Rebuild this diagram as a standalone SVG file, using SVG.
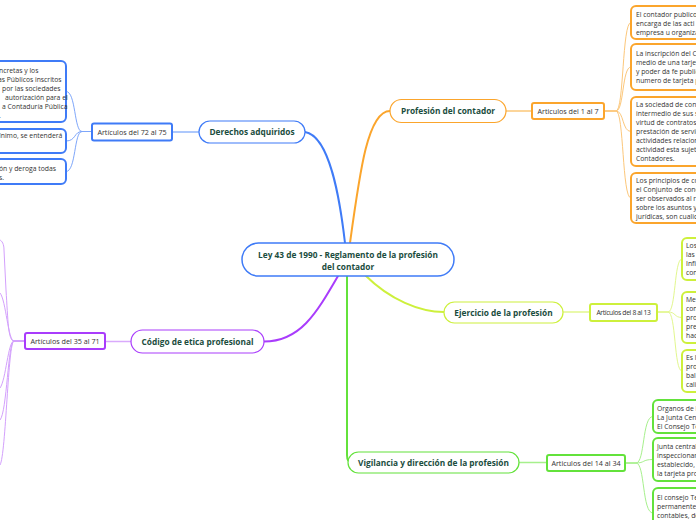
<svg xmlns="http://www.w3.org/2000/svg" width="696" height="520" viewBox="0 0 696 520">
<style>
text{font-family:"Open Sans","Noto Sans","Liberation Sans",sans-serif}
.main{font-size:8.3px;font-weight:bold;fill:#1b4d3e;text-anchor:middle}
.sub{font-size:7.2px;fill:#333;text-anchor:middle}
.leaf{font-size:6.8px;fill:#333}
.c{fill:none;stroke-linecap:round}
rect{fill:#fff}
</style>
<g id="connectors">
  <path class="c" d="M305,132 C330,136 340,200 345,243" stroke="#3f7bf7" stroke-width="2"/>
  <path class="c" d="M199,132 L172,132" stroke="#93b6fb" stroke-width="1.6"/>
  <g stroke="#7ea6fa" stroke-width="1" fill="none">
    <path d="M92,131.5 L82,131.5 C74,131.5 76,91.5 66,91.5"/>
    <path d="M92,131.5 L82,131.5 C74,131.5 76,141 66,141"/>
    <path d="M92,131.5 L82,131.5 C74,131.5 76,171.5 66,171.5"/>
  </g>
  <path class="c" d="M350,243 C360,170 368,111 390,111" stroke="#fba52c" stroke-width="2"/>
  <path class="c" d="M506,111 L532,111" stroke="#fcc77a" stroke-width="1.6"/>
  <g stroke="#fcc77a" stroke-width="1" fill="none">
    <path d="M604,111 L616,111 C624,111 622,22.5 631,22.5"/>
    <path d="M604,111 L616,111 C624,111 622,67 631,67"/>
    <path d="M604,111 L616,111 C624,111 622,131.5 631,131.5"/>
    <path d="M604,111 L616,111 C624,111 622,198 631,198"/>
  </g>
  <path class="c" d="M365,275 C390,300 420,312 444,312" stroke="#cdf03c" stroke-width="2"/>
  <path class="c" d="M563,312 L590,312" stroke="#e2f78e" stroke-width="1.6"/>
  <g stroke="#e2f78e" stroke-width="1" fill="none">
    <path d="M657,312 L668,312 C676,312 674,259 682,259"/>
    <path d="M657,312 L668,312 C676,312 674,317.5 682,317.5"/>
    <path d="M657,312 L668,312 C676,312 674,371 682,371"/>
  </g>
  <path class="c" d="M347,276 L347,455 Q347,462.5 352,462.5" stroke="#63e23b" stroke-width="2"/>
  <path class="c" d="M519,462.5 L547,462.5" stroke="#a6f08c" stroke-width="1.6"/>
  <g stroke="#a6f08c" stroke-width="1" fill="none">
    <path d="M625,463 L636,463 C645,463 642,416.5 653,416.5"/>
    <path d="M625,463 L636,463 C645,463 642,459.5 653,459.5"/>
    <path d="M625,463 L636,463 C645,463 642,513 653,513"/>
  </g>
  <path class="c" d="M338,276 C316,314 300,341.5 264,341.5" stroke="#a93cfc" stroke-width="2"/>
  <path class="c" d="M131,341.5 L105,341.5" stroke="#d9aafc" stroke-width="1.6"/>
  <g stroke="#d3a0fc" stroke-width="1" fill="none">
    <path d="M25,341 L14,341 C8,341 8,320 6,290 L4,250 C4,244 2,241 0,240"/>
    <path d="M25,341 L14,341 C8,341 6,300 0,293"/>
    <path d="M25,341 L14,341 C8,341 6,380 0,388"/>
    <path d="M25,341 L14,341 C8,341 7,412 0,420"/>
    <path d="M25,341 L14,341 C8,341 6,455 0,465"/>
  </g>
</g>
<g id="central">
  <rect x="242" y="243" width="212" height="33" rx="16.5" stroke="#3f7bf7" stroke-width="1.5"/>
  <text class="main" x="348" y="257.5">Ley 43 de 1990 - Reglamento de la profesión</text>
  <text class="main" x="348" y="270">del contador</text>
</g>
<g id="derechos">
  <rect x="199" y="121" width="106" height="22" rx="11" stroke="#3f7bf7" stroke-width="1.2"/>
  <text class="main" x="252" y="135">Derechos adquiridos</text>
</g>
<g id="art72">
  <rect x="92" y="123.5" width="80" height="17" rx="2" stroke="#3f7bf7" stroke-width="2"/>
  <text class="sub" x="132" y="134.5">Artículos del 72 al 75</text>
</g>
<g id="leaf-blue-1">
  <rect x="-20" y="61" width="86" height="61" rx="5" stroke="#3f7bf7" stroke-width="2"/>
  <text class="leaf" x="-1" y="72.5">ncretas y los</text>
  <text class="leaf" x="-2" y="81.5">as Públicos inscritos</text>
  <text class="leaf" x="2" y="90.5">por las sociedades</text>
  <text class="leaf" x="5" y="99.5">autorización para el</text>
  <text class="leaf" x="2" y="108.5">a Contaduría Pública</text>
  <text class="leaf" x="-1" y="117.5">.</text>
</g>
<g id="leaf-blue-2">
  <rect x="-20" y="129" width="86" height="24" rx="5" stroke="#3f7bf7" stroke-width="2"/>
  <text class="leaf" x="-1" y="138">ínimo, se entenderá</text>
</g>
<g id="leaf-blue-3">
  <rect x="-20" y="159" width="86" height="25" rx="5" stroke="#3f7bf7" stroke-width="2"/>
  <text class="leaf" x="-1" y="170.5">ón y deroga todas</text>
  <text class="leaf" x="-1" y="179.5">s.</text>
</g>
<g id="profesion">
  <rect x="390" y="99.5" width="116" height="23" rx="11.5" stroke="#fba52c" stroke-width="1.2"/>
  <text class="main" x="448" y="114">Profesión del contador</text>
</g>
<g id="art1">
  <rect x="532" y="103" width="72" height="16" rx="2" stroke="#fba52c" stroke-width="2"/>
  <text class="sub" x="568" y="113.8">Articulos del 1 al 7</text>
</g>
<g id="leaf-orange-1">
  <rect x="631" y="6" width="80" height="33" rx="5" stroke="#fba52c" stroke-width="2"/>
  <text class="leaf" x="636" y="16.5">El contador publico</text>
  <text class="leaf" x="636" y="25.5">encarga de las acti</text>
  <text class="leaf" x="636" y="34.5">empresa u organiza</text>
</g>
<g id="leaf-orange-2">
  <rect x="631" y="44" width="80" height="46" rx="5" stroke="#fba52c" stroke-width="2"/>
  <text class="leaf" x="636" y="56">La inscripción del Co</text>
  <text class="leaf" x="636" y="65">medio de una tarjeta</text>
  <text class="leaf" x="636" y="74">y poder da fe publica</text>
  <text class="leaf" x="636" y="83">numero de tarjeta pr</text>
</g>
<g id="leaf-orange-3">
  <rect x="631" y="97" width="80" height="69" rx="5" stroke="#fba52c" stroke-width="2"/>
  <text class="leaf" x="636" y="107">La sociedad de conta</text>
  <text class="leaf" x="636" y="116">intermedio de sus so</text>
  <text class="leaf" x="636" y="125">virtud de contratos d</text>
  <text class="leaf" x="636" y="134">prestación de servici</text>
  <text class="leaf" x="636" y="143">actividades relaciona</text>
  <text class="leaf" x="636" y="152">actividad esta sujeta</text>
  <text class="leaf" x="636" y="161">Contadores.</text>
</g>
<g id="leaf-orange-4">
  <rect x="631" y="173" width="80" height="50" rx="5" stroke="#fba52c" stroke-width="2"/>
  <text class="leaf" x="636" y="183"> Los principios de co</text>
  <text class="leaf" x="636" y="192">el Conjunto de conoc</text>
  <text class="leaf" x="636" y="201">ser observados al re</text>
  <text class="leaf" x="636" y="210">sobre los asuntos y a</text>
  <text class="leaf" x="636" y="219">jurídicas, son cualida</text>
</g>
<g id="ejercicio">
  <rect x="444" y="302" width="119" height="21" rx="10.5" stroke="#cdf03c" stroke-width="1.2"/>
  <text class="main" x="503.5" y="315.5">Ejercicio de la profesión</text>
</g>
<g id="art8">
  <rect x="590" y="304" width="67" height="17" rx="2" stroke="#cdf03c" stroke-width="2"/>
  <text class="sub" x="623.5" y="315" style="letter-spacing:-0.35px;font-size:6.8px">Artículos del 8 al 13</text>
</g>
<g id="leaf-lime-1">
  <rect x="682" y="238" width="40" height="42" rx="5" stroke="#cdf03c" stroke-width="2"/>
  <text class="leaf" x="686" y="248">Los</text>
  <text class="leaf" x="686" y="257">las</text>
  <text class="leaf" x="686" y="266">Infi</text>
  <text class="leaf" x="686" y="275">con</text>
</g>
<g id="leaf-lime-2">
  <rect x="682" y="292" width="40" height="51" rx="5" stroke="#cdf03c" stroke-width="2"/>
  <text class="leaf" x="686" y="302">Me</text>
  <text class="leaf" x="686" y="311">con</text>
  <text class="leaf" x="686" y="320">pro</text>
  <text class="leaf" x="686" y="329">pre</text>
  <text class="leaf" x="686" y="338">hac</text>
</g>
<g id="leaf-lime-3">
  <rect x="682" y="350" width="40" height="42" rx="5" stroke="#cdf03c" stroke-width="2"/>
  <text class="leaf" x="686" y="360">Es l</text>
  <text class="leaf" x="686" y="369">pro</text>
  <text class="leaf" x="686" y="378">bal</text>
  <text class="leaf" x="686" y="387">cali</text>
</g>
<g id="vigilancia">
  <rect x="348" y="452" width="171" height="21" rx="10.5" stroke="#63e23b" stroke-width="1.2"/>
  <text class="main" x="433.5" y="465.5">Vigilancia y dirección de la profesión</text>
</g>
<g id="art14">
  <rect x="547" y="455" width="78" height="16" rx="2" stroke="#63e23b" stroke-width="2"/>
  <text class="sub" x="586" y="465.8">Articulos del 14 al 34</text>
</g>
<g id="leaf-green-1">
  <rect x="653" y="400" width="60" height="33" rx="5" stroke="#63e23b" stroke-width="2"/>
  <text class="leaf" x="657" y="411">Organos de l</text>
  <text class="leaf" x="657" y="420">La Junta Cent</text>
  <text class="leaf" x="657" y="429">El Consejo Té</text>
</g>
<g id="leaf-green-2">
  <rect x="653" y="438" width="60" height="43" rx="5" stroke="#63e23b" stroke-width="2"/>
  <text class="leaf" x="657" y="448.5">Junta central</text>
  <text class="leaf" x="657" y="457.5">inspeccionar</text>
  <text class="leaf" x="657" y="466.5">establecido, p</text>
  <text class="leaf" x="657" y="475.5">la tarjeta pro</text>
</g>
<g id="leaf-green-3">
  <rect x="653" y="488" width="60" height="50" rx="5" stroke="#63e23b" stroke-width="2"/>
  <text class="leaf" x="657" y="499.5">El consejo Tec</text>
  <text class="leaf" x="657" y="508.5">permanente</text>
  <text class="leaf" x="657" y="517.5">contables, de</text>
</g>
<g id="codigo">
  <rect x="131" y="330" width="133" height="23" rx="11.5" stroke="#a93cfc" stroke-width="1.2"/>
  <text class="main" x="197.5" y="344.5">Código de etica profesional</text>
</g>
<g id="art35">
  <rect x="25" y="333" width="80" height="16" rx="2" stroke="#a93cfc" stroke-width="2"/>
  <text class="sub" x="65" y="343.8">Artículos del 35 al 71</text>
</g>
</svg>
